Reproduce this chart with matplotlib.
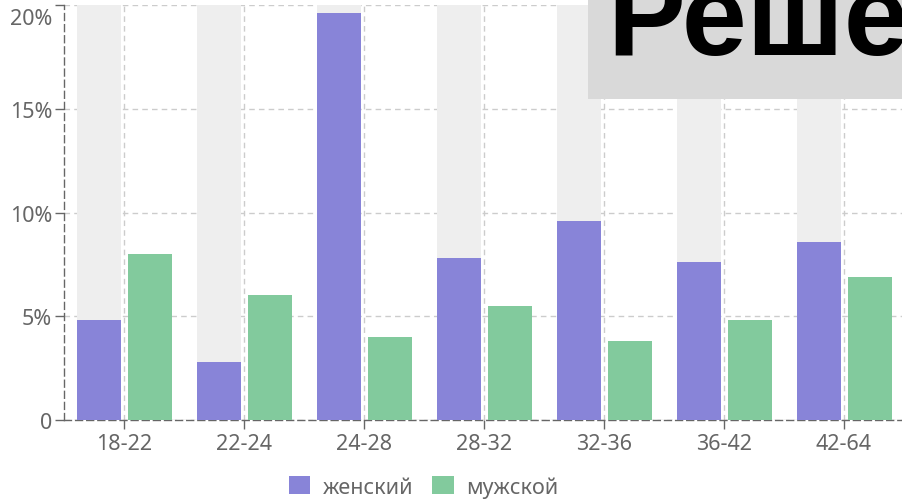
import matplotlib.pyplot as plt
from matplotlib.patches import Rectangle
from matplotlib.ticker import FuncFormatter
import matplotlib.transforms as mtransforms
import numpy as np

# Данные
categories = ['18-22', '22-24', '24-28', '28-32', '32-36', '36-42', '42-64']
female = [4.8, 2.8, 19.6, 7.8, 9.6, 7.6, 8.6]
male = [8.0, 6.0, 4.0, 5.5, 3.8, 4.8, 6.9]
y_max = 20

plt.rcParams['font.family'] = ['Noto Sans', 'DejaVu Sans']

fig = plt.figure(figsize=(9.02, 5.02), dpi=100)
ax = fig.add_axes([0.071, 0.1614, 0.931, 0.8266])

x = np.arange(len(categories))
w = 0.367

# Серый фон для женских столбцов
ax.bar(x - 0.21, [y_max] * len(categories), width=w, color='#eeeeee', zorder=2)
ax.bar(x - 0.21, female, width=w, color='#8884d8', zorder=3, label='женский')
ax.bar(x + 0.215, male, width=w, color='#82ca9d', zorder=3, label='мужской')

ax.set_xlim(-0.5, len(categories) - 0.5)
ax.set_ylim(0, y_max)
ax.set_xticks(x)
ax.set_xticklabels(categories)
ax.set_yticks([0, 5, 10, 15, 20])
ax.yaxis.set_major_formatter(FuncFormatter(lambda v, p: '0' if v == 0 else f'{v:.0f}%'))

ax.grid(True, color='#cccccc', linestyle=(0, (4, 3)), linewidth=1, zorder=0)
ax.set_axisbelow(True)

for s in ['top', 'right']:
    ax.spines[s].set_visible(False)
for s in ['left', 'bottom']:
    ax.spines[s].set_color('#666666')
    ax.spines[s].set_linestyle((0, (5, 3)))
    ax.spines[s].set_linewidth(1)

ax.tick_params(colors='#666666', labelsize=15.5, length=6.5, width=1)
ax.tick_params(axis='x', pad=3)
ax.tick_params(axis='y', pad=2)

# верхняя подпись "20%" сдвинута вниз, чтобы не обрезалась
top_label = ax.yaxis.get_major_ticks()[-1].label1
top_label.set_va('top')
top_label.set_transform(top_label.get_transform() +
                        mtransforms.ScaledTranslation(0, -2 / 72, fig.dpi_scale_trans))

leg = ax.legend(loc='center', bbox_to_anchor=(0.428, -0.161), ncol=2, frameon=False,
                fontsize=15.5, handlelength=1.0, handleheight=0.85, handletextpad=0.55,
                columnspacing=0.9, labelcolor='#666666', borderpad=0)

# Заголовок в сером прямоугольнике (обрезан справа)
fig.patches.append(Rectangle((0.652, 0.801), 0.4, 0.3, transform=fig.transFigure,
                             facecolor='#d9d9d9', edgecolor='none', zorder=5))
fig.text(0.673, 0.8904, 'Решение', fontsize=84, fontweight='bold',
         family='Liberation Sans', color='black', zorder=6)

fig.savefig('out.png', dpi=100)
